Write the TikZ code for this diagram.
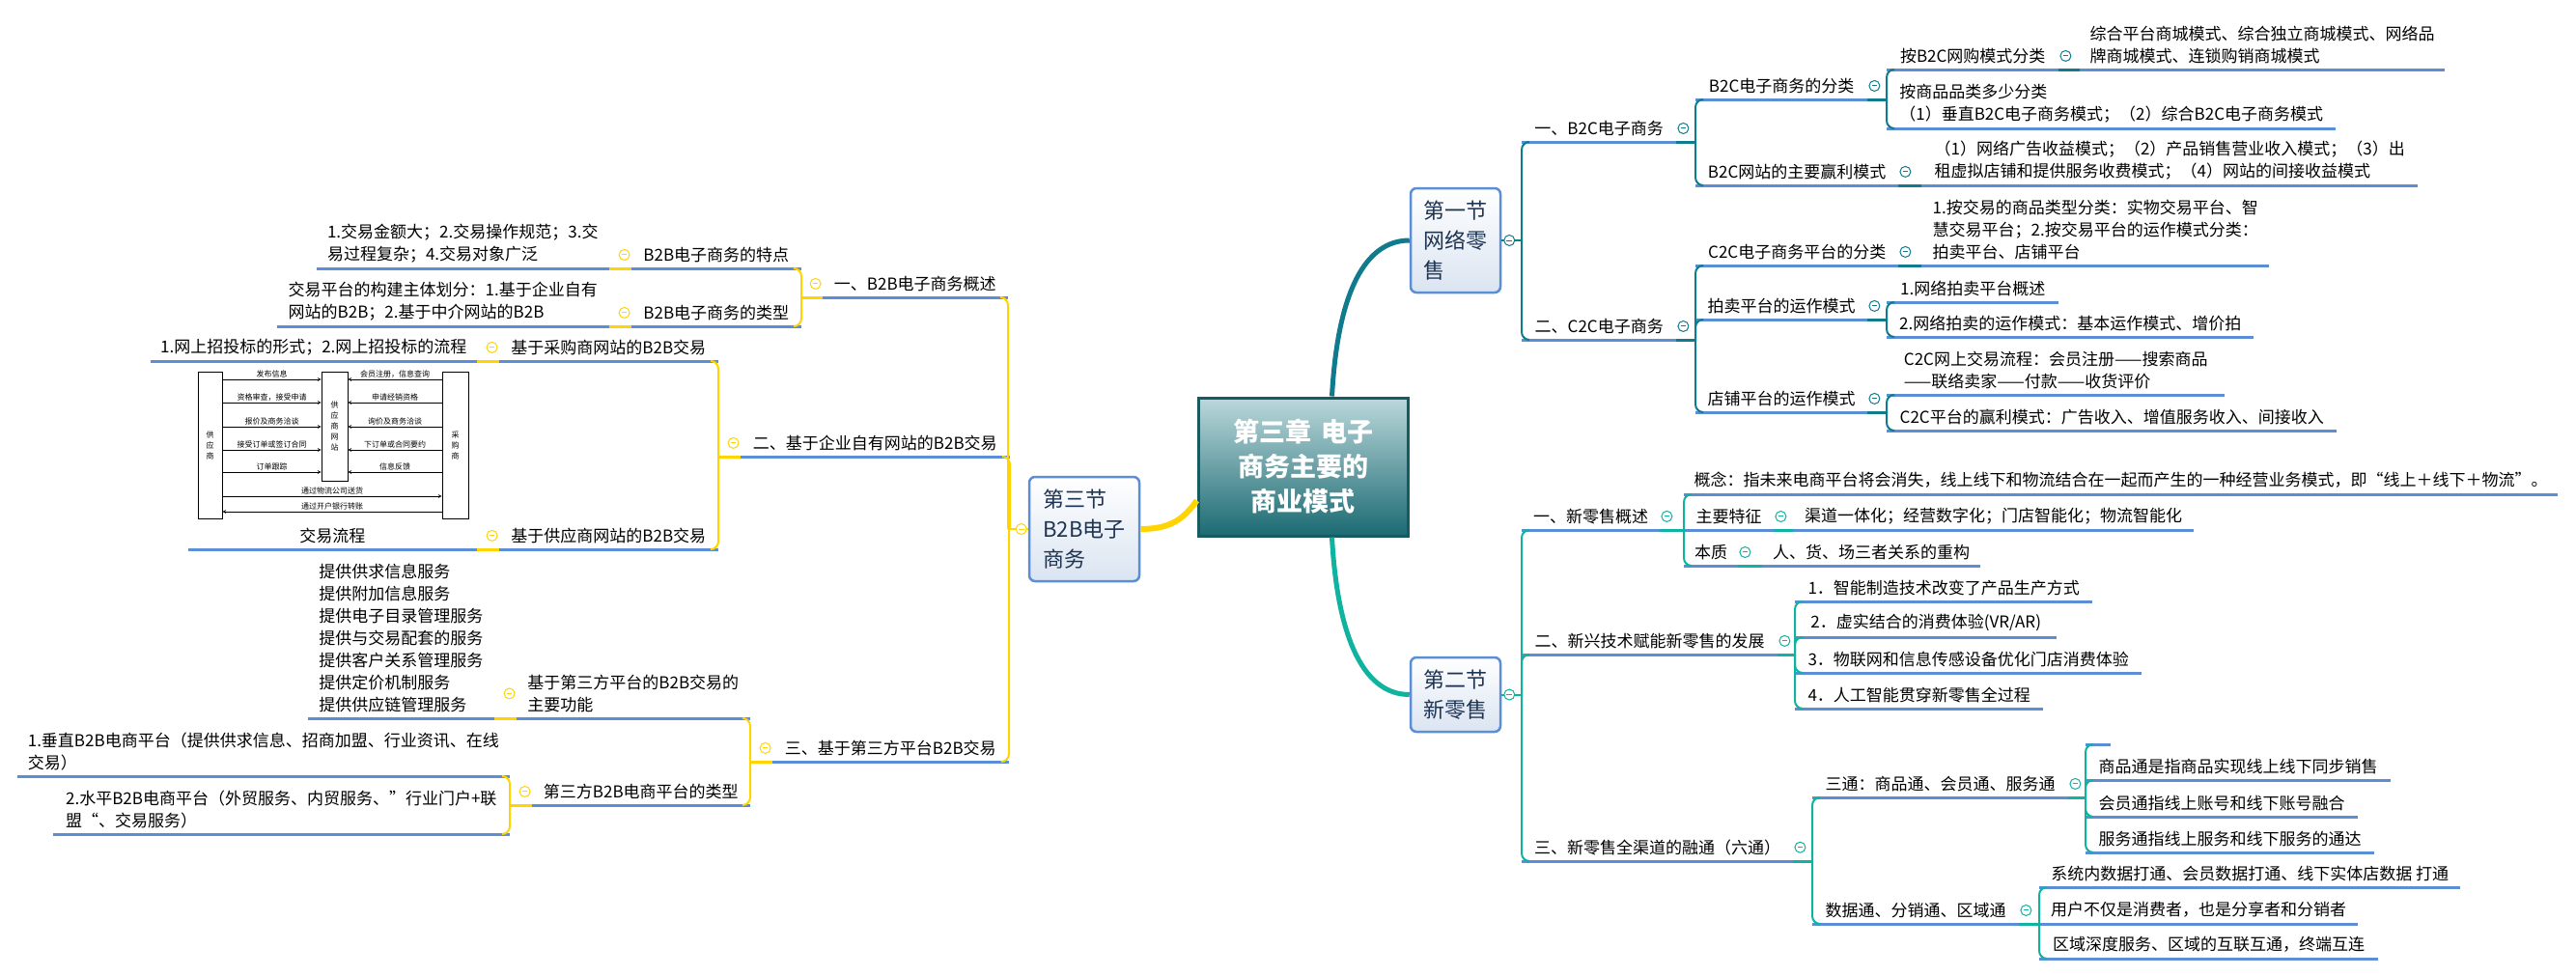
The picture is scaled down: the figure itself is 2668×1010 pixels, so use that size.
\documentclass[tikz,border=0pt]{standalone}
\usepackage{fontspec}
\setmainfont{Noto Sans CJK SC}
\definecolor{ulblue}{HTML}{5B8ED5}
\definecolor{tealA}{HTML}{0F7B8D}
\definecolor{tealB}{HTML}{10B2A0}
\definecolor{gold}{HTML}{FFD400}
\definecolor{coretop}{HTML}{BBD8DB}
\definecolor{corebot}{HTML}{1B6A72}
\definecolor{coreline}{HTML}{165A62}
\definecolor{secfill}{HTML}{DAE4F1}
\definecolor{sectext}{HTML}{1E3452}
\begin{document}
\begin{tikzpicture}[x=1pt,y=-1pt,
	uline/.style={draw=ulblue,line width=3pt},
	topic/.style={anchor=south west,align=left,inner xsep=9pt,inner ysep=6pt,
		minimum width=#1pt,font=\fontsize{17}{23}\selectfont,
		append after command={(\tikzlastnode.south west) edge[uline] (\tikzlastnode.south east)}},
	ltopic/.style={topic=#1,anchor=south east},
	sec/.style={draw=ulblue,line width=2.5pt,rounded corners=6pt,top color=white,
		bottom color=secfill,text=sectext,align=left,inner sep=0pt,
		font=\fontsize{22}{31}\selectfont},
	conn/.style={draw=#1,line width=2pt,rounded corners=8pt},
	segl/.style={draw=#1,line width=3pt},
	fold/.style={circle,draw=#1,fill=white,line width=1pt,minimum size=11pt,inner sep=0pt,
		path picture={\draw[#1,line width=1pt]
			([xshift=-2.8pt]path picture bounding box.center) --
			([xshift=2.8pt]path picture bounding box.center);}},
	main/.style={draw=#1,line width=5pt},
	box/.style={draw,line width=0.8pt,align=center,inner sep=0pt,font=\fontsize{8}{11}\selectfont},
	flow/.style={->,>=stealth,line width=0.7pt},
	lbl/.style={above,inner sep=1.5pt,font=\fontsize{8}{9}\selectfont}]
	\path[use as bounding box,fill=white] (0,0) rectangle (2668,1010);
	%%%%%%%% centre and sections
	\node[draw=coreline,line width=3pt,top color=coretop,bottom color=corebot,
		minimum width=217pt,minimum height=143pt,align=center,text=white,
		font=\fontsize{27}{36}\selectfont\bfseries] (core) at (1349.5,483.5)
		{第三章\hspace{10pt}电子\\商务主要的\\商业模式};
	\node[sec,minimum width=93pt,minimum height=108pt] (sec1) at (1507.5,249) {第一节\\网络零\\售};
	\node[sec,minimum width=93pt,minimum height=77pt] (sec2) at (1507.5,719.5) {第二节\\新零售};
	\node[sec,minimum width=114pt,minimum height=108pt] (sec3) at (1123,548) {第三节\\B2B电子\\商务};
	\draw[main=tealA] ([xshift=30pt]core.north) .. controls +(6,-110) and +(-45,0) .. (sec1.west);
	\draw[main=tealB] ([xshift=30pt]core.south) .. controls +(6,110) and +(-45,0) .. (sec2.west);
	\draw[main=gold,line width=6pt] ([yshift=-35pt]core.west) .. controls +(-14,20) and +(30,0) .. (sec3.east);
	%%%%%%%% 第一节
	\node[topic=160] (b2c) at (1576,147) {一、B2C电子商务};
	\node[topic=178] (b2ccls) at (1756,103) {B2C电子商务的分类};
	\node[topic=178] (b2cweb) at (1954,72) {按B2C网购模式分类};
	\node[topic=378] (b2cwebx) at (2154,72) {综合平台商城模式、综合独立商城模式、网络品\\牌商城模式、连锁购销商城模式};
	\node[topic=465] (b2csz) at (1954,133) {按商品品类多少分类\\（1）垂直B2C电子商务模式；（2）综合B2C电子商务模式};
	\node[topic=210] (b2cwin) at (1756,192) {B2C网站的主要赢利模式};
	\node[topic=514] (b2cwinx) at (1990,192) {（1）网络广告收益模式；（2）产品销售营业收入模式；（3）出\\租虚拟店铺和提供服务收费模式；（4）网站的间接收益模式};
	\node[topic=160] (c2c) at (1576,352) {二、C2C电子商务};
	\node[topic=210] (c2ccls) at (1756,275) {C2C电子商务平台的分类};
	\node[topic=360] (c2cclsx) at (1990,275) {1.按交易的商品类型分类：实物交易平台、智\\慧交易平台；2.按交易平台的运作模式分类：\\拍卖平台、店铺平台};
	\node[topic=178] (auction) at (1756,331) {拍卖平台的运作模式};
	\node[topic=178] (auc1) at (1954,313) {1.网络拍卖平台概述};
	\node[topic=380] (auc2) at (1954,349) {2.网络拍卖的运作模式：基本运作模式、增价拍};
	\node[topic=178] (shop) at (1756,427) {店铺平台的运作模式};
	\node[topic=350] (shop1) at (1954,409) {C2C网上交易流程：会员注册——搜索商品\\——联络卖家——付款——收货评价};
	\node[topic=466] (shop2) at (1954,446) {C2C平台的赢利模式：广告收入、增值服务收入、间接收入};
	%%%%%%%% 第二节
	\node[topic=143] (nr) at (1576,549) {一、新零售概述};
	\node[topic=905] (concept) at (1744,512) {概念：指未来电商平台将会消失，线上线下和物流结合在一起而产生的一种经营业务模式，即“线上＋线下＋物流”。};
	\node[topic=93] (feat) at (1744,549) {主要特征};
	\node[topic=415] (featx) at (1857,549) {渠道一体化；经营数字化；门店智能化；物流智能化};
	\node[topic=56] (ess) at (1744,586) {本质};
	\node[topic=226] (essx) at (1825,586) {人、货、场三者关系的重构};
	\node[topic=265] (tech) at (1576,678) {二、新兴技术赋能新零售的发展};
	\node[topic=308] (t1) at (1859,623) {1．智能制造技术改变了产品生产方式};
	\node[topic=271] (t2) at (1859,660) {2．虚实结合的消费体验(VR/AR)};
	\node[topic=359] (t3) at (1859,697) {3．物联网和信息传感设备优化门店消费体验};
	\node[topic=257] (t4) at (1859,734) {4．人工智能贯穿新零售全过程};
	\node[topic=281] (six) at (1576,892) {三、新零售全渠道的融通（六通）};
	\node[topic=265] (three) at (1877,826) {三通：商品通、会员通、服务通};
	\node[topic=26] (e0) at (2160,771) {};
	\node[topic=316] (e1) at (2160,808) {商品通是指商品实现线上线下同步销售};
	\node[topic=282] (e2) at (2160,846) {会员通指线上账号和线下账号融合};
	\node[topic=299] (e3) at (2160,883) {服务通指线上服务和线下服务的通达};
	\node[topic=214] (data) at (1877,957) {数据通、分销通、区域通};
	\node[topic=436] (d1) at (2112,919) {系统内数据打通、会员数据打通、线下实体店数据 打通};
	\node[topic=330] (d2) at (2112,957) {用户不仅是消费者，也是分享者和分销者};
	\node[topic=351] (d3) at (2112,993) {区域深度服务、区域的互联互通，终端互连};
	%%%%%%%% 第三节
	\node[ltopic=192] (gen) at (1044,308) {一、B2B电子商务概述};
	\node[ltopic=176] (feat2) at (830,278) {B2B电子商务的特点};
	\node[ltopic=303] (feat2x) at (631,278) {1.交易金额大；2.交易操作规范；3.交\\易过程复杂；4.交易对象广泛};
	\node[ltopic=176] (type) at (830,338) {B2B电子商务的类型};
	\node[ltopic=344] (typex) at (631,338) {交易平台的构建主体划分：1.基于企业自有\\网站的B2B；2.基于中介网站的B2B};
	\node[ltopic=279] (own) at (1046,473) {二、基于企业自有网站的B2B交易};
	\node[ltopic=227] (buy) at (744,374) {基于采购商网站的B2B交易};
	\node[ltopic=338] (buyx) at (494,374) {1.网上招投标的形式；2.网上招投标的流程};
	\node[ltopic=227] (sup) at (744,569) {基于供应商网站的B2B交易};
	\node[ltopic=299] (supx) at (494,569) {交易流程};
	\node[ltopic=245] (third) at (1045,789) {三、基于第三方平台B2B交易};
	\node[ltopic=242] (func) at (777,744) {基于第三方平台的B2B交易的\\主要功能};
	\node[ltopic=193] (funcx) at (512,744) {提供供求信息服务\\提供附加信息服务\\提供电子目录管理服务\\提供与交易配套的服务\\提供客户关系管理服务\\提供定价机制服务\\提供供应链管理服务};
	\node[ltopic=226] (kind) at (777,834) {第三方B2B电商平台的类型};
	\node[ltopic=510] (k1) at (528,804) {1.垂直B2B电商平台（提供供求信息、招商加盟、行业资讯、在线\\交易）};
	\node[ltopic=473] (k2) at (528,864) {2.水平B2B电商平台（外贸服务、内贸服务、”行业门户+联\\盟“、交易服务）};
	%%%%%%%% flow chart of 交易流程
	\node[box,minimum width=25pt,minimum height=152pt] (gys) at (217.5,461) {供\\应\\商};
	\node[box,minimum width=27pt,minimum height=113pt] (wz) at (346.5,441.5) {供\\应\\商\\网\\站};
	\node[box,minimum width=27pt,minimum height=152pt] (cgs) at (471.5,461) {采\\购\\商};
	\foreach \y/\l/\r in {393/发布信息/会员注册，信息查询,417/资格审查，接受申请/申请经销资格,
		442/报价及商务洽谈/询价及商务洽谈,466/接受订单或签订合同/下订单或合同要约,489/订单跟踪/信息反馈}{
		\draw[flow] (gys.east |- 0,\y) -- node[lbl] (la\y) {\l} (wz.west |- 0,\y);
		\draw[flow] (cgs.west |- 0,\y) -- node[lbl] (ra\y) {\r} (wz.east |- 0,\y);
	}
	\draw[flow] (gys.east |- 0,514) -- node[lbl] (ship) {通过物流公司送货} (cgs.west |- 0,514);
	\draw[flow] (cgs.west |- 0,530) -- node[lbl] (bank) {通过开户银行转账} (gys.east |- 0,530);
	%%%%%%%% connectors
	\draw[conn=tealA] (sec1.east) -- (sec1.east -| b2c.south west);
	\draw[conn=tealB] (sec2.east) -- (sec2.east -| nr.south west);
	\draw[conn=gold] (sec3.west) -- (sec3.west -| gen.south east);
	\foreach \p/\c in {b2c/b2ccls,b2ccls/b2cweb,b2cweb/b2cwebx,b2cwin/b2cwinx,c2c/c2ccls,
		c2ccls/c2cclsx,auction/auc1,shop/shop1}
		\draw[segl=tealA] (\p.south east) -- (\p.south east -| \c.south west);
	\foreach \p/\c in {nr/feat,feat/featx,ess/essx,tech/t1,six/three,three/e0,data/d2}
		\draw[segl=tealB] (\p.south east) -- (\p.south east -| \c.south west);
	\foreach \p/\c in {gen/feat2,feat2/feat2x,type/typex,own/buy,buy/buyx,sup/supx,third/func,
		func/funcx,kind/k1}
		\draw[segl=gold] (\p.south west) -- (\p.south west -| \c.south east);
	\foreach \p/\c in {sec1.east/b2c,sec1.east/c2c,b2c.south east/b2ccls,b2c.south east/b2cwin,
		b2ccls.south east/b2cweb,b2ccls.south east/b2csz,c2c.south east/c2ccls,
		c2c.south east/auction,c2c.south east/shop,auction.south east/auc1,
		auction.south east/auc2,shop.south east/shop1,shop.south east/shop2}
		\draw[conn=tealA] (\p -| \c.south west) |- ([xshift=8pt]\c.south west);
	\foreach \p/\c in {sec2.east/nr,sec2.east/tech,sec2.east/six,nr.south east/concept,
		nr.south east/ess,tech.south east/t1,tech.south east/t2,tech.south east/t3,
		tech.south east/t4,six.south east/three,six.south east/data,three.south east/e0,
		three.south east/e1,three.south east/e2,three.south east/e3,data.south east/d1,
		data.south east/d3}
		\draw[conn=tealB] (\p -| \c.south west) |- ([xshift=8pt]\c.south west);
	\foreach \p/\c in {sec3.west/gen,sec3.west/own,sec3.west/third,gen.south west/feat2,
		gen.south west/type,own.south west/buy,own.south west/sup,third.south west/func,
		third.south west/kind,kind.south west/k1,kind.south west/k2}
		\draw[conn=gold] (\p -| \c.south east) |- ([xshift=-8pt]\c.south east);
	%%%%%%%% fold marks
	\node[fold=tealA] (sec1-f) at ([xshift=8pt]sec1.east) {};
	\node[fold=tealB] (sec2-f) at ([xshift=8pt]sec2.east) {};
	\node[fold=gold] (sec3-f) at ([xshift=-7pt]sec3.west) {};
	\foreach \p in {b2c,b2ccls,b2cweb,b2cwin,c2c,c2ccls,auction,shop}
		\node[fold=tealA] (\p-f) at ([xshift=7pt]\p.east) {};
	\foreach \p in {nr,feat,ess,tech,six,three,data}
		\node[fold=tealB] (\p-f) at ([xshift=7pt]\p.east) {};
	\foreach \p in {gen,feat2,type,own,buy,sup,third,func,kind}
		\node[fold=gold] (\p-f) at ([xshift=-7pt]\p.west) {};
\end{tikzpicture}
\end{document}
